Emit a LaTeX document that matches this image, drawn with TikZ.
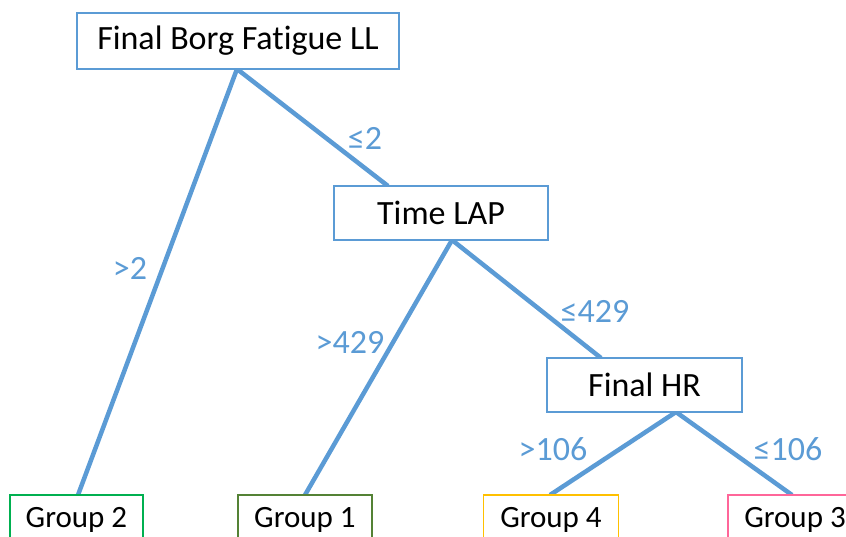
\documentclass[tikz,border=0pt]{standalone}
\usepackage{fontspec}
\setmainfont{Carlito}[Ligatures={NoCommon}]
\definecolor{lblue}{HTML}{5B9BD5}
\definecolor{ggreen}{HTML}{00B050}
\definecolor{dgreen}{HTML}{548235}
\definecolor{gold}{HTML}{FFC000}
\definecolor{pinkc}{HTML}{FF6699}
\begin{document}
\begin{tikzpicture}[x=1pt,y=-1pt,
  decbox/.style={draw=lblue,line width=1.5pt,fill=white,inner sep=0pt,font=\fontsize{34}{38}\selectfont},
  grpbox/.style={line width=1.5pt,fill=white,inner sep=0pt,font=\fontsize{31}{34}\selectfont},
  edge/.style={draw=lblue,line width=4.5pt},
  elabel/.style={text=lblue,font=\fontsize{34}{38}\selectfont,inner sep=0pt}]
\useasboundingbox (0,0) rectangle (846,536);
\clip (0,0) rectangle (846,536);
% coordinates for connector ends
\coordinate (a1) at (237,69);
\coordinate (a2) at (452,240);
\coordinate (a3) at (676,412);
% edges
\draw[edge] (a1) -- (78,495) coordinate (g2top);
\draw[edge] (a1) -- (388,186) coordinate (tltop);
\draw[edge] (a2) -- (305,495) coordinate (g1top);
\draw[edge] (a2) -- (601,358) coordinate (hrtop);
\draw[edge] (a3) -- (550,495) coordinate (g4top);
\draw[edge] (a3) -- (792,495) coordinate (g3top);
% decision nodes
\node[decbox,minimum width=322pt,minimum height=56pt] (root) at (238,41) {Final Borg Fatigue LL};
\node[decbox,minimum width=214pt,minimum height=54pt] (tlap) at (441,213) {Time LAP};
\node[decbox,minimum width=195pt,minimum height=54pt] (fhr) at (644.5,385) {Final HR};
% group nodes
\node[grpbox,draw=ggreen,minimum width=133pt,minimum height=50pt] (g2) at (76.5,520) {Group 2};
\node[grpbox,draw=dgreen,minimum width=134pt,minimum height=50pt] (g1) at (305,520) {Group 1};
\node[grpbox,draw=gold,minimum width=135pt,minimum height=50pt] (g4) at (551,520) {Group 4};
\node[grpbox,draw=pinkc,minimum width=134pt,minimum height=50pt] (g3) at (795,520) {Group 3};
% edge labels
\node[elabel] (l1) at (365,138) {≤2};
\node[elabel] (l2) at (130,268) {>2};
\node[elabel] (l3) at (350,342) {>429};
\node[elabel] (l4) at (595,311) {≤429};
\node[elabel] (l5) at (553,449) {>106};
\node[elabel] (l6) at (788,449) {≤106};
\end{tikzpicture}
\end{document}
